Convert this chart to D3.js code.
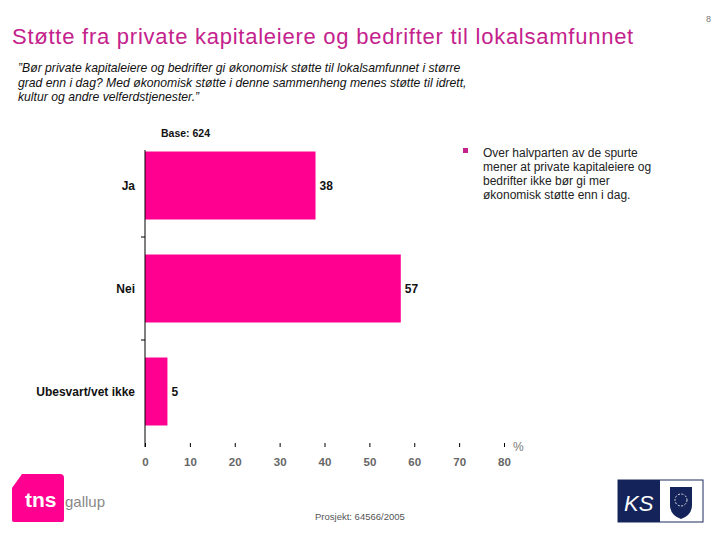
<!DOCTYPE html>
<html><head><meta charset="utf-8">
<script src="https://cdn.jsdelivr.net/npm/d3@7"></script>
<style>body{margin:0;background:#fff}svg{display:block}</style>
</head><body>
<svg id="c" width="720" height="540"></svg>
<script>
const categories = ["Ja", "Nei", "Ubesvart/vet ikke"];
const values = [38, 57, 5];
const xTicks = [0, 10, 20, 30, 40, 50, 60, 70, 80];
const titleText = "Støtte fra private kapitaleiere og bedrifter til lokalsamfunnet";
const quoteLines = ["\u201dBør private kapitaleiere og bedrifter gi økonomisk støtte til lokalsamfunnet i større",
  "grad enn i dag? Med økonomisk støtte i denne sammenheng menes støtte til idrett,",
  "kultur og andre velferdstjenester.\u201d"];
const noteLines = ["Over halvparten av de spurte", "mener at private kapitaleiere og", "bedrifter ikke bør gi mer", "økonomisk støtte enn i dag."];

const svg = d3.select("#c");
const F = "Arial, 'Liberation Sans', sans-serif";

svg.append("text").attr("x", 706).attr("y", 22).attr("font-family", F).attr("font-size", 9).attr("fill", "#777").text("8");
svg.append("text").attr("x", 12).attr("y", 44).attr("font-family", F).attr("font-size", 22).attr("letter-spacing", 0.75)
  .attr("fill", "#c4228c").text(titleText);
svg.append("g").selectAll("text").data(quoteLines).join("text")
  .attr("x", 18).attr("y", (d, i) => 72 + i * 14.5).attr("font-family", F).attr("font-size", 12.2)
  .attr("font-style", "italic").attr("fill", "#111").text(d => d);

const x = d3.scaleLinear().domain([0, 80]).range([145, 504]);
const y = d3.scaleBand().domain(categories).range([134, 443]).paddingInner(0.34).paddingOuter(0.17);

svg.append("text").attr("x", 161).attr("y", 137).attr("font-family", F).attr("font-size", 10.5).attr("font-weight", "bold").attr("fill", "#111").text("Base: 624");

// bars
svg.append("g").selectAll("rect").data(values).join("rect")
  .attr("x", x(0)).attr("y", (d, i) => y(categories[i]))
  .attr("width", d => x(d) - x(0)).attr("height", y.bandwidth()).attr("fill", "#ff0090");

// value labels
svg.append("g").selectAll("text").data(values).join("text")
  .attr("x", d => x(d) + 4).attr("y", (d, i) => y(categories[i]) + y.bandwidth() / 2 + 4)
  .attr("font-family", F).attr("font-size", 12).attr("font-weight", "bold").attr("fill", "#111").text(d => d);

// category labels
svg.append("g").selectAll("text").data(categories).join("text")
  .attr("x", 135).attr("y", d => y(d) + y.bandwidth() / 2 + 4).attr("text-anchor", "end")
  .attr("font-family", F).attr("font-size", 12).attr("font-weight", "bold").attr("fill", "#111").text(d => d);

// y axis line and band ticks
svg.append("line").attr("x1", 145).attr("x2", 145).attr("y1", 150).attr("y2", 447).attr("stroke", "#000");
const step = y.step();
svg.append("g").selectAll("line").data(categories.slice(1)).join("line")
  .attr("x1", 141).attr("x2", 145).attr("y1", d => y(d) - (step - y.bandwidth()) / 2).attr("y2", d => y(d) - (step - y.bandwidth()) / 2)
  .attr("stroke", "#000");

// x axis
const xa = svg.append("g").attr("transform", "translate(0,443)")
  .call(d3.axisBottom(x).tickValues(xTicks).tickSize(4).tickPadding(11));
xa.select(".domain").remove();
xa.selectAll(".tick line").attr("stroke", "#000");
xa.selectAll(".tick text").attr("font-family", F).attr("font-size", 11.5).attr("font-weight", "bold").attr("fill", "#666");
svg.append("text").attr("x", 513).attr("y", 451).attr("font-family", F).attr("font-size", 12).attr("fill", "#777").text("%");

// note
svg.append("rect").attr("x", 463).attr("y", 148).attr("width", 5).attr("height", 5).attr("fill", "#c4228c");
svg.append("g").selectAll("text").data(noteLines).join("text")
  .attr("x", 483).attr("y", (d, i) => 157 + i * 14).attr("font-family", F).attr("font-size", 12)
  .attr("fill", "#222").text(d => d);

// footer
svg.append("text").attr("x", 315).attr("y", 520).attr("font-family", F).attr("font-size", 9.5).attr("fill", "#555").text("Prosjekt: 64566/2005");

// tns gallup logo
const lg = svg.append("g");
lg.append("path").attr("d", "M22,474 L60,474 Q64,474 64,478 L64,520 Q64,522 62,522 L14,522 Q12,522 12,520 L12,488 Z").attr("fill", "#ff0090");
lg.append("text").attr("x", 25).attr("y", 507).attr("font-family", F).attr("font-size", 21).attr("font-weight", "bold").attr("fill", "#fff").text("tns");
lg.append("text").attr("x", 65).attr("y", 507).attr("font-family", F).attr("font-size", 15).attr("fill", "#888").text("gallup");

// KS logo
const ks = svg.append("g");
ks.append("rect").attr("x", 618).attr("y", 480).attr("width", 85).attr("height", 42).attr("fill", "#fff").attr("stroke", "#1a2a5e");
ks.append("rect").attr("x", 618).attr("y", 480).attr("width", 42).attr("height", 42).attr("fill", "#14245a");
ks.append("text").attr("x", 624).attr("y", 511).attr("font-family", F).attr("font-size", 22).attr("font-style", "italic").attr("fill", "#fff").text("KS");
ks.append("path").attr("d", "M670,487 L692,487 L692,505 Q692,515 681,519 Q670,515 670,505 Z").attr("fill", "#14245a");
ks.append("circle").attr("cx", 681).attr("cy", 500).attr("r", 6).attr("fill", "none").attr("stroke", "#ddd").attr("stroke-dasharray", "2,1.5");
</script>
</body></html>
